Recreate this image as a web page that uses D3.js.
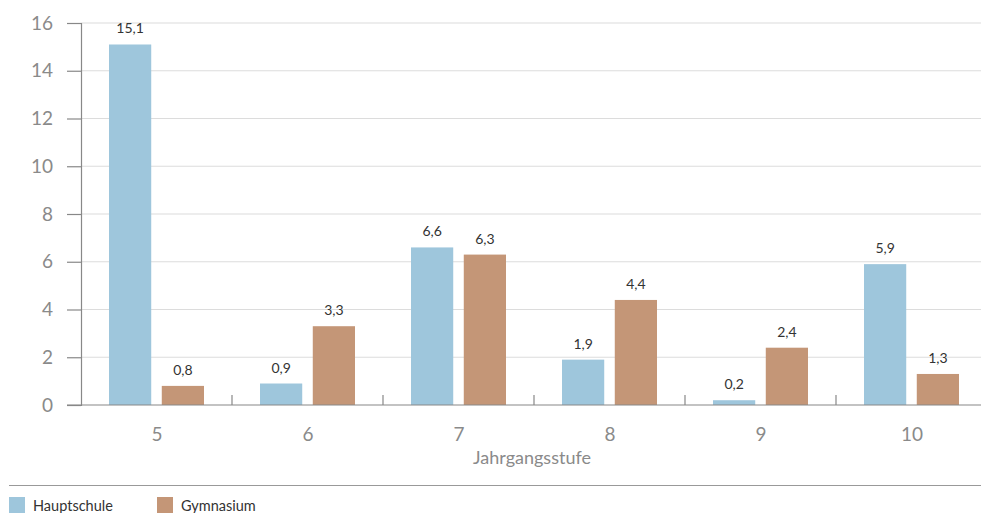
<!DOCTYPE html>
<html>
<head>
<meta charset="utf-8">
<script src="https://cdn.jsdelivr.net/npm/d3@7"></script>
<style>
  html, body { margin: 0; padding: 0; background: #fff; }
  svg { display: block; font-family: Lato, "Open Sans", sans-serif; }
</style>
</head>
<body>
<svg id="chart" width="981" height="513"></svg>
<script>
// Jahrgangsstufen und Werte je Schulart
const categories = ["5", "6", "7", "8", "9", "10"];
const hauptschule = [15.1, 0.9, 6.6, 1.9, 0.2, 5.9];
const gymnasium = [0.8, 3.3, 6.3, 4.4, 2.4, 1.3];
const seriesNames = ["Hauptschule", "Gymnasium"];
const yTicks = [0, 2, 4, 6, 8, 10, 12, 14, 16];
const xTitle = "Jahrgangsstufe";

const colors = ["#9ec6dc", "#c49677"];
const svg = d3.select("#chart");

const x0 = d3.scaleBand().domain(categories).range([81, 987]).paddingInner(0).paddingOuter(0);
const x1 = d3.scaleBand().domain(seriesNames).range([28, 123]).paddingInner(0.2);
const y = d3.scaleLinear().domain([0, 16]).range([405, 23]);

// Gitterlinien
svg.append("g").selectAll("line").data(yTicks.filter(d => d > 0)).join("line")
  .attr("x1", 81).attr("x2", 981)
  .attr("y1", d => y(d)).attr("y2", d => y(d))
  .attr("stroke", "#dcdcdc").attr("stroke-width", 1.2);

// y-Achse
const yAxis = svg.append("g").attr("transform", "translate(81,0)")
  .call(d3.axisLeft(y).tickValues(yTicks).tickSize(14).tickPadding(14).tickFormat(d3.format("d")));
yAxis.select(".domain").attr("stroke", "#888").attr("stroke-width", 1.2);
yAxis.selectAll(".tick line").attr("stroke", "#888").attr("stroke-width", 1.2);
yAxis.selectAll("text").attr("fill", "#8a8a8a").style("font-size", "19px").style("font-family", "Lato, sans-serif");

// Balken
const data = categories.map((c, i) => ({ cat: c, vals: [hauptschule[i], gymnasium[i]] }));
const groups = svg.append("g").selectAll("g").data(data).join("g")
  .attr("transform", d => `translate(${x0(d.cat)},0)`);

groups.selectAll("rect").data(d => d.vals.map((v, j) => ({ v, s: seriesNames[j], j }))).join("rect")
  .attr("x", d => x1(d.s)).attr("width", x1.bandwidth())
  .attr("y", d => y(d.v)).attr("height", d => y(0) - y(d.v))
  .attr("fill", d => colors[d.j]);

groups.selectAll("text").data(d => d.vals.map((v, j) => ({ v, s: seriesNames[j] }))).join("text")
  .attr("x", d => x1(d.s) + x1.bandwidth() / 2)
  .attr("y", d => y(d.v) - 11)
  .attr("text-anchor", "middle")
  .attr("fill", "#333").style("font-size", "14px")
  .text(d => d3.format(".1f")(d.v).replace(".", ","));

// x-Achse
svg.append("line").attr("x1", 67).attr("x2", 981).attr("y1", y(0)).attr("y2", y(0))
  .attr("stroke", "#888").attr("stroke-width", 1.2);
svg.append("g").selectAll("line").data(categories.slice(1)).join("line")
  .attr("x1", d => x0(d)).attr("x2", d => x0(d))
  .attr("y1", y(0) - 10).attr("y2", y(0))
  .attr("stroke", "#888").attr("stroke-width", 1.2);
svg.append("g").selectAll("text").data(categories).join("text")
  .attr("x", d => x0(d) + 76).attr("y", 441)
  .attr("text-anchor", "middle").attr("fill", "#8a8a8a").style("font-size", "19px")
  .text(d => d);
svg.append("text").attr("x", 532).attr("y", 464).attr("text-anchor", "middle")
  .attr("fill", "#8a8a8a").style("font-size", "18px").text(xTitle);

// Legende
svg.append("line").attr("x1", 9).attr("x2", 981).attr("y1", 485.5).attr("y2", 485.5)
  .attr("stroke", "#999").attr("stroke-width", 1.2);
const legendX = [9, 157];
const leg = svg.append("g").selectAll("g").data(seriesNames).join("g")
  .attr("transform", (d, i) => `translate(${legendX[i]},497)`);
leg.append("rect").attr("width", 16).attr("height", 16).attr("fill", (d, i) => colors[i]);
leg.append("text").attr("x", 24).attr("y", 14).attr("fill", "#333").style("font-size", "14.5px").text(d => d);
</script>
</body>
</html>
